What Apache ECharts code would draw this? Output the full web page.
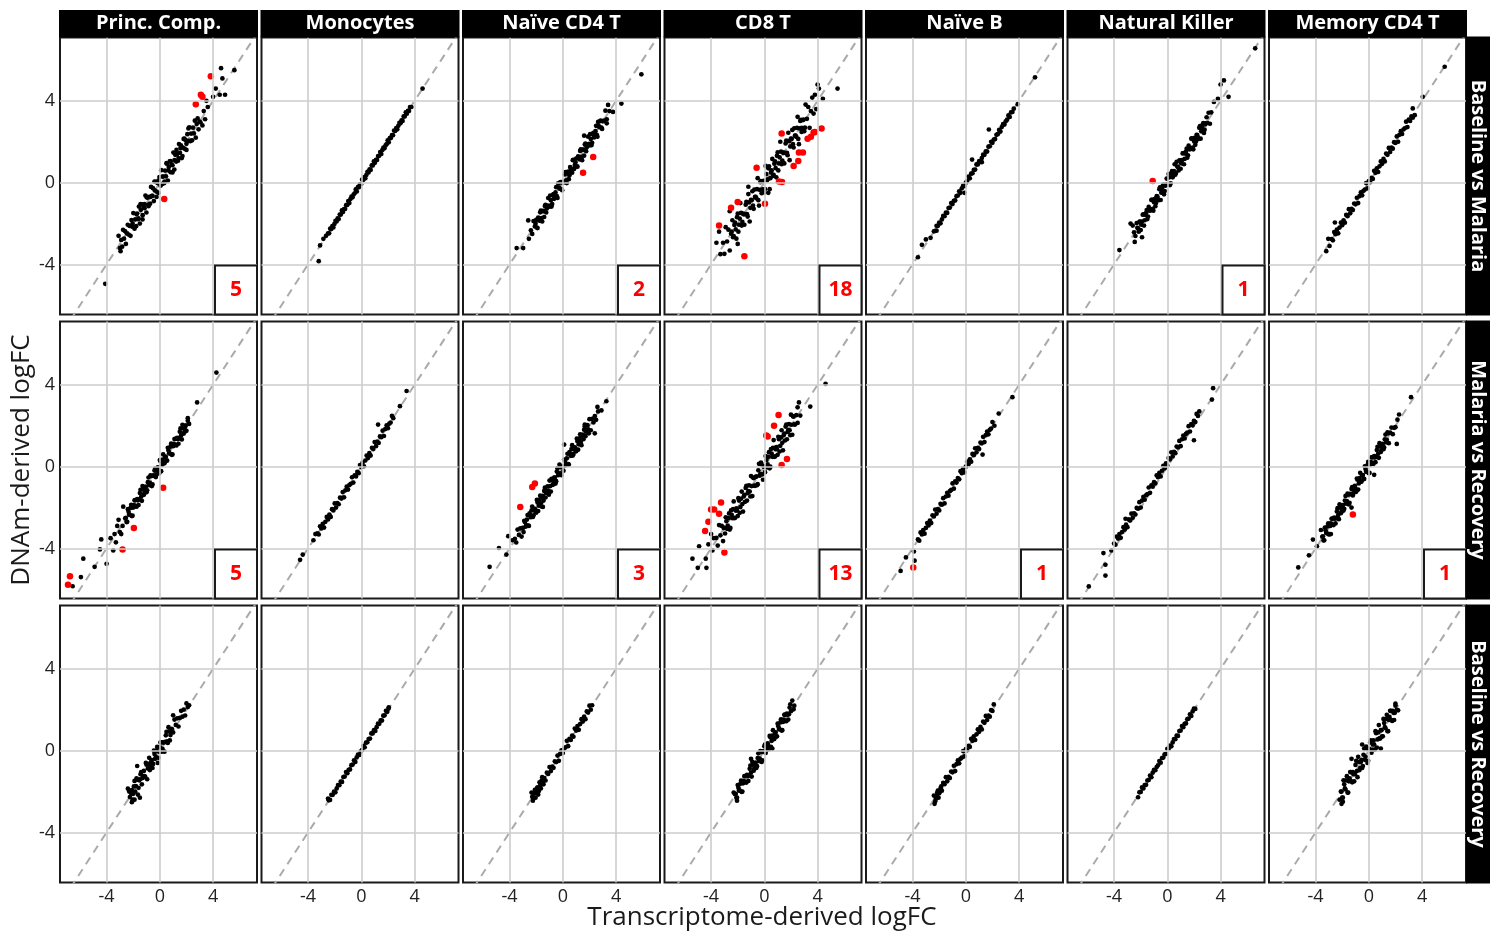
<!DOCTYPE html>
<html>
<head>
<meta charset="utf-8">
<title>DNAm vs transcriptome logFC</title>
<script src="https://cdn.jsdelivr.net/npm/echarts@6/dist/echarts.min.js"></script>
<style>
  html, body { margin: 0; padding: 0; background: #ffffff; }
  #chart { width: 1499px; height: 934px; }
</style>
</head>
<body>
<div id="chart"></div>
<script>
// Facet labels
const CELL_TYPES = ['Princ. Comp.', 'Monocytes', 'Naïve CD4 T', 'CD8 T', 'Naïve B', 'Natural Killer', 'Memory CD4 T'];
const CONTRASTS = ['Baseline vs Malaria', 'Malaria vs Recovery', 'Baseline vs Recovery'];
const TICKS = [-4, 0, 4];
const X_LIMITS = [-7.5, 7.3];
const Y_LIMITS = [-6.45, 7.1];
const IDENTITY = [-9, 9];

// ---- Baseline vs Malaria: [transcriptome logFC, DNAm logFC] ----
const bm_pc = [[-2.9,-2.8],[-2.83,-3.13],[-2.76,-2.31],[-2.69,-2.74],[-2.62,-2.37],[-2.55,-3.0],[-2.48,-2.48],[-2.41,-2.06],[-2.34,-2.54],[-2.27,-2.12],[-2.2,-2.6],[-2.13,-1.83],[-2.06,-2.16],[-1.99,-1.49],[-1.92,-2.17],[-1.85,-1.8],[-1.78,-2.13],[-1.71,-1.51],[-1.64,-1.79],[-1.57,-1.17],[-1.5,-2.0],[-1.43,-1.33],[-1.36,-1.06],[-1.29,-1.59],[-1.22,-1.22],[-1.15,-1.25],[-1.08,-0.63],[-1.01,-1.46],[-0.94,-0.74],[-0.87,-1.07],[-0.8,-0.7],[-0.73,-1.03],[-0.66,-0.21],[-0.59,-0.64],[-0.52,-0.27],[-0.45,-0.9],[-0.38,-0.38],[-0.31,0.04],[-0.24,-0.44],[-0.17,-0.02],[-0.1,-0.5],[-0.03,0.27],[0.04,-0.06],[0.11,0.61],[0.18,-0.07],[0.25,0.3],[0.32,-0.03],[0.39,0.59],[0.46,0.31],[0.53,0.93],[0.6,0.1],[0.67,0.77],[0.74,1.04],[0.81,0.51],[0.88,0.88],[0.95,0.85],[1.02,1.47],[1.09,0.64],[1.16,1.36],[1.23,1.03],[1.3,1.4],[1.37,1.07],[1.44,1.89],[1.51,1.46],[1.58,1.83],[1.65,1.2],[1.72,1.72],[1.79,2.14],[1.86,1.66],[1.93,2.08],[2.0,1.6],[2.07,2.37],[2.14,2.04],[2.21,2.71],[2.28,2.03],[2.35,2.4],[2.42,2.07],[2.49,2.69],[2.56,2.41],[2.63,3.03],[2.7,2.2],[2.77,2.87],[2.84,3.14],[2.91,2.61],[2.98,2.98],[3.05,2.95],[-2.05,-2.0],[-1.9,-2.25],[-1.75,-1.55],[-1.6,-1.75],[-1.45,-1.05],[-1.3,-1.8],[-1.15,-1.05],[-1.0,-0.7],[-0.85,-1.15],[-0.7,-0.7],[-0.55,-0.65],[-0.4,0.05],[-0.25,-0.7],[-0.1,0.1],[0.05,-0.15],[0.2,0.3],[0.35,0.05],[0.5,0.95],[0.65,0.6],[0.8,1.05],[0.95,0.5],[1.1,1.1],[1.25,1.6],[1.4,1.2],[1.55,1.7],[1.7,1.3],[1.85,2.15],[2.0,1.9],[2.15,2.65],[2.3,2.05],[-4.1,-4.95],[-3.1,-2.6],[-3.0,-3.2],[-2.95,-3.35],[3.3,3.5],[3.5,4.0],[3.6,3.7],[4.0,4.2],[4.5,4.3],[4.9,4.3],[4.7,5.1],[4.6,5.6],[5.6,5.5],[4.2,4.6],[3.2,2.8],[3.4,3.1]];
const bm_pc_sig = [[3.83,5.2],[3.08,4.3],[3.2,4.2],[2.7,3.84],[0.33,-0.8]];

const bm_mono = [[-2.5,-2.48],[-2.42,-2.48],[-2.34,-2.25],[-2.26,-2.27],[-2.18,-2.13],[-2.1,-2.19],[-2.02,-2.02],[-1.94,-1.87],[-1.86,-1.9],[-1.78,-1.75],[-1.7,-1.78],[-1.62,-1.56],[-1.54,-1.56],[-1.46,-1.36],[-1.38,-1.43],[-1.3,-1.29],[-1.22,-1.29],[-1.14,-1.1],[-1.06,-1.09],[-0.98,-0.9],[-0.9,-1.0],[-0.82,-0.8],[-0.74,-0.68],[-0.66,-0.72],[-0.58,-0.58],[-0.5,-0.52],[-0.42,-0.33],[-0.34,-0.43],[-0.26,-0.22],[-0.18,-0.22],[-0.1,-0.08],[-0.02,-0.08],[0.06,0.15],[0.14,0.13],[0.22,0.27],[0.3,0.21],[0.38,0.38],[0.46,0.53],[0.54,0.5],[0.62,0.65],[0.7,0.62],[0.78,0.84],[0.86,0.84],[0.94,1.04],[1.02,0.97],[1.1,1.11],[1.18,1.11],[1.26,1.3],[1.34,1.31],[1.42,1.5],[1.5,1.4],[1.58,1.6],[1.66,1.72],[1.74,1.68],[1.82,1.82],[1.9,1.88],[1.98,2.07],[2.06,1.97],[2.14,2.18],[2.22,2.18],[2.3,2.32],[2.38,2.32],[2.46,2.55],[2.54,2.53],[2.62,2.67],[2.7,2.61],[2.78,2.78],[2.86,2.93],[2.94,2.9],[3.02,3.05],[3.1,3.02],[3.18,3.24],[3.26,3.24],[3.34,3.44],[3.42,3.37],[3.5,3.51],[3.58,3.51],[3.66,3.7],[-3.2,-3.84],[-3.1,-3.07],[-2.85,-2.75],[-2.65,-2.6],[3.76,3.7],[4.6,4.6]];
const bm_mono_sig = [];

const bm_cd4n = [[-2.4,-2.33],[-2.3,-2.51],[-2.2,-1.88],[-2.1,-2.14],[-2.0,-1.82],[-1.9,-2.22],[-1.8,-1.8],[-1.7,-1.45],[-1.6,-1.74],[-1.5,-1.39],[-1.4,-1.68],[-1.3,-1.09],[-1.2,-1.27],[-1.1,-0.75],[-1.0,-1.18],[-0.9,-0.86],[-0.8,-1.05],[-0.7,-0.56],[-0.6,-0.71],[-0.5,-0.22],[-0.4,-0.75],[-0.3,-0.23],[-0.2,0.01],[-0.1,-0.31],[0.0,0.0],[0.1,0.03],[0.2,0.52],[0.3,-0.02],[0.4,0.54],[0.5,0.36],[0.6,0.67],[0.7,0.49],[0.8,1.12],[0.9,0.86],[1.0,1.18],[1.1,0.78],[1.2,1.2],[1.3,1.55],[1.4,1.26],[1.5,1.61],[1.6,1.32],[1.7,1.91],[1.8,1.73],[1.9,2.25],[2.0,1.82],[2.1,2.14],[2.2,1.95],[2.3,2.44],[2.4,2.29],[2.5,2.78],[2.6,2.25],[2.7,2.77],[2.8,3.01],[2.9,2.69],[3.0,3.0],[3.1,3.03],[3.2,3.52],[-2.05,-2.01],[-1.95,-2.2],[-1.85,-1.71],[-1.75,-1.86],[-1.65,-1.37],[-1.55,-1.9],[-1.45,-1.38],[-1.35,-1.14],[-1.25,-1.46],[-1.15,-1.15],[-1.05,-1.12],[-0.95,-0.63],[-0.85,-1.17],[-0.75,-0.61],[-0.65,-0.79],[-0.55,-0.48],[-0.45,-0.66],[-0.35,-0.03],[-0.25,-0.29],[-0.15,0.03],[-0.05,-0.37],[0.05,0.05],[0.15,0.4],[0.25,0.11],[0.35,0.46],[0.45,0.17],[0.55,0.76],[0.65,0.58],[0.75,1.1],[0.85,0.67],[0.95,0.99],[1.05,0.8],[1.15,1.29],[1.25,1.14],[1.35,1.63],[1.45,1.1],[1.55,1.62],[1.65,1.86],[1.75,1.54],[1.85,1.85],[1.95,1.88],[2.05,2.37],[2.15,1.83],[2.25,2.39],[2.35,2.21],[2.45,2.52],[2.55,2.34],[2.65,2.97],[2.75,2.71],[2.85,3.03],[2.95,2.63],[-3.47,-3.2],[-2.98,-3.2],[-2.6,-1.85],[-2.55,-2.75],[3.3,3.1],[3.5,3.5],[3.77,3.46],[4.4,3.87],[5.9,5.3],[1.6,2.3],[3.4,3.8],[3.3,2.9]];
const bm_cd4n_sig = [[2.28,1.26],[1.52,0.49]];

const bm_cd8 = [[-3.1,-2.94],[-3.0,-3.48],[-2.9,-2.18],[-2.8,-2.88],[-2.7,-2.3],[-2.6,-3.32],[-2.5,-2.5],[-2.4,-1.84],[-2.3,-2.62],[-2.2,-1.96],[-2.1,-2.74],[-2.0,-1.52],[-1.9,-2.06],[-1.8,-1.0],[-1.7,-2.1],[-1.6,-1.52],[-1.5,-2.06],[-1.4,-1.08],[-1.3,-1.54],[-1.2,-0.56],[-1.1,-1.9],[-1.0,-0.84],[-0.9,-0.42],[-0.8,-1.28],[-0.7,-0.7],[-0.6,-0.76],[-0.5,0.22],[-0.4,-1.12],[-0.3,0.02],[-0.2,-0.52],[-0.1,0.06],[0.0,-0.48],[0.1,0.82],[0.2,0.12],[0.3,0.7],[0.4,-0.32],[0.5,0.5],[0.6,1.16],[0.7,0.38],[0.8,1.04],[0.9,0.26],[1.0,1.48],[1.1,0.94],[1.2,2.0],[1.3,0.9],[1.4,1.48],[1.5,0.94],[1.6,1.92],[1.7,1.46],[1.8,2.44],[1.9,1.1],[2.0,2.16],[2.1,2.58],[2.2,1.72],[2.3,2.3],[2.4,2.24],[2.5,3.22],[2.6,1.88],[2.7,3.02],[2.8,2.48],[2.9,3.06],[3.0,2.52],[3.1,3.82],[3.2,3.12],[3.3,3.7],[3.4,2.68],[3.5,3.5],[3.6,4.16],[3.7,3.38],[-2.45,-2.4],[-2.35,-2.67],[-2.25,-2.07],[-2.15,-2.29],[-2.05,-1.69],[-1.95,-2.4],[-1.85,-1.76],[-1.75,-1.48],[-1.65,-1.92],[-1.55,-1.55],[-1.45,-1.54],[-1.35,-0.94],[-1.25,-1.66],[-1.15,-0.97],[-1.05,-1.23],[-0.95,-0.86],[-0.85,-1.12],[-0.75,-0.34],[-0.65,-0.7],[-0.55,-0.32],[-0.45,-0.86],[-0.35,-0.35],[-0.25,0.07],[-0.15,-0.33],[-0.05,0.09],[0.05,-0.31],[0.15,0.42],[0.25,0.16],[0.35,0.8],[0.45,0.22],[0.55,0.6],[0.65,0.33],[0.75,0.93],[0.85,0.71],[0.95,1.31],[1.05,0.6],[1.15,1.24],[1.25,1.52],[1.35,1.08],[1.45,1.45],[1.55,1.46],[1.65,2.06],[1.75,1.34],[1.85,2.03],[1.95,1.77],[2.05,2.14],[2.15,1.88],[2.25,2.66],[2.35,2.3],[2.45,2.68],[2.55,2.14],[2.65,2.65],[2.75,3.07],[2.85,2.67],[2.95,3.09],[3.05,2.69],[-3.6,-2.94],[-3.4,-2.4],[-2.0,-3.0],[-3.3,-3.5],[4.0,4.8],[4.4,4.1],[5.5,4.6],[3.8,4.3],[4.1,4.6],[3.9,3.6],[-1.2,-0.2],[0.3,-0.5],[-2.6,-1.4]];
const bm_cd8_sig = [[4.3,2.65],[3.8,2.48],[3.7,2.45],[3.5,2.24],[3.25,2.15],[2.9,1.47],[2.6,1.47],[2.55,1.06],[2.2,0.81],[1.3,2.4],[1.1,0.06],[1.33,0.03],[-0.58,0.73],[0.05,-1.03],[-2.0,-0.95],[-2.5,-1.23],[-3.4,-2.1],[-1.5,-3.6]];

const bm_bn = [[-2.4,-2.38],[-2.3,-2.36],[-2.2,-2.11],[-2.1,-2.11],[-2.0,-1.95],[-1.9,-1.99],[-1.8,-1.8],[-1.7,-1.63],[-1.6,-1.64],[-1.5,-1.47],[-1.4,-1.48],[-1.3,-1.24],[-1.2,-1.22],[-1.1,-1.0],[-1.0,-1.05],[-0.9,-0.89],[-0.8,-0.87],[-0.7,-0.66],[-0.6,-0.63],[-0.5,-0.42],[-0.4,-0.5],[-0.3,-0.28],[-0.2,-0.14],[-0.1,-0.16],[0.0,0.0],[0.1,0.08],[0.2,0.29],[0.3,0.21],[0.4,0.44],[0.5,0.46],[0.6,0.62],[0.7,0.64],[0.8,0.89],[0.9,0.89],[1.0,1.05],[1.1,1.01],[1.2,1.2],[1.3,1.37],[1.4,1.36],[1.5,1.53],[1.6,1.52],[1.7,1.76],[1.8,1.78],[1.9,2.0],[2.0,1.95],[2.1,2.11],[2.2,2.13],[2.3,2.34],[2.4,2.37],[2.5,2.58],[2.6,2.5],[2.7,2.72],[2.8,2.86],[2.9,2.84],[3.0,3.0],[3.1,3.08],[3.2,3.29],[3.3,3.21],[3.4,3.44],[3.5,3.46],[3.6,3.62],[-3.6,-3.65],[-3.3,-3.04],[-3.0,-2.78],[-2.65,-2.7],[3.9,3.84],[5.2,5.15],[1.73,2.6],[-0.1,-0.5],[0.47,1.13],[-2.2,-2.35],[1.2,1.0]];
const bm_bn_sig = [];

const bm_nk = [[-2.5,-2.43],[-2.4,-2.61],[-2.3,-1.98],[-2.2,-2.24],[-2.1,-1.92],[-2.0,-2.32],[-1.9,-1.9],[-1.8,-1.55],[-1.7,-1.84],[-1.6,-1.49],[-1.5,-1.78],[-1.4,-1.19],[-1.3,-1.37],[-1.2,-0.85],[-1.1,-1.28],[-1.0,-0.96],[-0.9,-1.15],[-0.8,-0.66],[-0.7,-0.81],[-0.6,-0.32],[-0.5,-0.85],[-0.4,-0.33],[-0.3,-0.09],[-0.2,-0.41],[-0.1,-0.1],[0.0,-0.07],[0.1,0.42],[0.2,-0.12],[0.3,0.44],[0.4,0.26],[0.5,0.57],[0.6,0.39],[0.7,1.02],[0.8,0.76],[0.9,1.08],[1.0,0.68],[1.1,1.1],[1.2,1.45],[1.3,1.16],[1.4,1.51],[1.5,1.22],[1.6,1.81],[1.7,1.63],[1.8,2.15],[1.9,1.72],[2.0,2.04],[2.1,1.85],[2.2,2.34],[2.3,2.19],[2.4,2.68],[2.5,2.15],[2.6,2.67],[2.7,2.91],[2.8,2.59],[2.9,2.9],[3.0,2.93],[3.1,3.42],[3.2,2.88],[3.3,3.44],[-2.25,-2.21],[-2.15,-2.4],[-2.05,-1.91],[-1.95,-2.06],[-1.85,-1.57],[-1.75,-2.1],[-1.65,-1.58],[-1.55,-1.34],[-1.45,-1.66],[-1.35,-1.35],[-1.25,-1.32],[-1.15,-0.83],[-1.05,-1.37],[-0.95,-0.81],[-0.85,-0.99],[-0.75,-0.68],[-0.65,-0.86],[-0.55,-0.23],[-0.45,-0.49],[-0.35,-0.17],[-0.25,-0.57],[-0.15,-0.15],[-0.05,0.2],[0.05,-0.09],[0.15,0.26],[0.25,-0.03],[0.35,0.56],[0.45,0.38],[0.55,0.9],[0.65,0.47],[0.75,0.79],[0.85,0.6],[0.95,1.09],[1.05,0.94],[1.15,1.43],[1.25,0.9],[1.35,1.42],[1.45,1.66],[1.55,1.34],[1.65,1.65],[1.75,1.68],[1.85,2.17],[1.95,1.63],[2.05,2.19],[2.15,2.01],[2.25,2.32],[2.35,2.14],[2.45,2.77],[2.55,2.51],[2.65,2.83],[2.75,2.43],[2.85,2.85],[2.95,3.2],[-3.6,-3.3],[-2.76,-2.0],[-1.9,-2.67],[-2.6,-2.1],[-2.45,-2.9],[3.5,3.95],[4.25,5.0],[4.6,4.2],[4.0,4.8],[3.8,4.1],[6.6,6.57]];
const bm_nk_sig = [[-1.1,0.08]];

const bm_cd4m = [[-2.8,-2.76],[-2.7,-2.82],[-2.6,-2.42],[-2.5,-2.52],[-2.4,-2.3],[-2.3,-2.48],[-2.2,-2.2],[-2.1,-1.96],[-2.0,-2.08],[-1.9,-1.84],[-1.8,-1.96],[-1.7,-1.58],[-1.6,-1.64],[-1.5,-1.3],[-1.4,-1.5],[-1.3,-1.28],[-1.2,-1.34],[-1.1,-1.02],[-1.0,-1.06],[-0.9,-0.74],[-0.8,-1.0],[-0.7,-0.66],[-0.6,-0.48],[-0.5,-0.62],[-0.4,-0.4],[-0.3,-0.34],[-0.2,-0.02],[-0.1,-0.28],[0.0,0.08],[0.1,0.02],[0.2,0.24],[0.3,0.18],[0.4,0.58],[0.5,0.48],[0.6,0.7],[0.7,0.52],[0.8,0.8],[0.9,1.04],[1.0,0.92],[1.1,1.16],[1.2,1.04],[1.3,1.42],[1.4,1.36],[1.5,1.7],[1.6,1.5],[1.7,1.72],[1.8,1.66],[1.9,1.98],[2.0,1.94],[2.1,2.26],[2.2,2.0],[2.3,2.34],[2.4,2.52],[2.5,2.38],[2.6,2.6],[2.7,2.66],[2.8,2.98],[2.9,2.72],[3.0,3.08],[3.1,3.02],[3.2,3.24],[3.3,3.18],[-3.2,-3.35],[-3.05,-2.75],[-2.95,-3.1],[3.3,3.63],[3.45,3.3],[4.05,4.2],[5.7,5.67],[-2.55,-1.95]];
const bm_cd4m_sig = [];

// ---- Malaria vs Recovery ----
const mr_pc = [[-2.6,-2.53],[-2.5,-2.71],[-2.4,-2.08],[-2.3,-2.34],[-2.2,-2.02],[-2.1,-2.42],[-2.0,-2.0],[-1.9,-1.65],[-1.8,-1.94],[-1.7,-1.59],[-1.6,-1.88],[-1.5,-1.29],[-1.4,-1.47],[-1.3,-0.95],[-1.2,-1.38],[-1.1,-1.06],[-1.0,-1.25],[-0.9,-0.76],[-0.8,-0.91],[-0.7,-0.42],[-0.6,-0.95],[-0.5,-0.43],[-0.4,-0.19],[-0.3,-0.51],[-0.2,-0.2],[-0.1,-0.17],[0.0,0.32],[0.1,-0.22],[0.2,0.34],[0.3,0.16],[0.4,0.47],[0.5,0.29],[0.6,0.92],[0.7,0.66],[0.8,0.98],[0.9,0.58],[1.0,1.0],[1.1,1.35],[1.2,1.06],[1.3,1.41],[1.4,1.12],[1.5,1.71],[1.6,1.53],[1.7,2.05],[1.8,1.62],[1.9,1.94],[2.0,1.75],[2.1,2.24],[2.2,2.09],[-2.55,-2.51],[-2.45,-2.7],[-2.35,-2.21],[-2.25,-2.36],[-2.15,-1.87],[-2.05,-2.4],[-1.95,-1.88],[-1.85,-1.64],[-1.75,-1.96],[-1.65,-1.65],[-1.55,-1.62],[-1.45,-1.13],[-1.35,-1.67],[-1.25,-1.11],[-1.15,-1.29],[-1.05,-0.98],[-0.95,-1.16],[-0.85,-0.53],[-0.75,-0.79],[-0.65,-0.47],[-0.55,-0.87],[-0.45,-0.45],[-0.35,-0.1],[-0.25,-0.39],[-0.15,-0.04],[-0.05,-0.33],[0.05,0.26],[0.15,0.08],[0.25,0.6],[0.35,0.17],[0.45,0.49],[0.55,0.3],[0.65,0.79],[0.75,0.64],[0.85,1.13],[0.95,0.6],[1.05,1.12],[1.15,1.36],[1.25,1.04],[1.35,1.35],[1.45,1.38],[1.55,1.87],[1.65,1.33],[1.75,1.89],[1.85,1.71],[1.95,2.02],[4.25,4.6],[2.8,3.14],[2.1,2.37],[-2.75,-1.96],[-2.8,-2.9],[-3.0,-3.2],[-3.2,-2.9],[-3.4,-3.3],[-3.5,-4.1],[-3.7,-3.5],[-4.0,-4.75],[-4.4,-3.56],[-4.5,-4.05],[-4.9,-4.9],[-5.75,-4.5],[-5.93,-5.4],[-6.55,-5.85],[-3.3,-3.7],[-3.1,-2.6],[-2.9,-3.3]];
const mr_pc_sig = [[0.25,-1.03],[-1.95,-3.0],[-2.8,-4.05],[-6.75,-5.36],[-6.9,-5.78]];

const mr_mono = [[-3.3,-3.26],[-3.2,-3.32],[-3.1,-2.92],[-3.0,-3.02],[-2.9,-2.8],[-2.8,-2.98],[-2.7,-2.7],[-2.6,-2.46],[-2.5,-2.58],[-2.4,-2.34],[-2.3,-2.46],[-2.2,-2.08],[-2.1,-2.14],[-2.0,-1.8],[-1.9,-2.0],[-1.8,-1.78],[-1.7,-1.84],[-1.6,-1.52],[-1.5,-1.56],[-1.4,-1.24],[-1.3,-1.5],[-1.2,-1.16],[-1.1,-0.98],[-1.0,-1.12],[-0.9,-0.9],[-0.8,-0.84],[-0.7,-0.52],[-0.6,-0.78],[-0.5,-0.42],[-0.4,-0.48],[-0.3,-0.26],[-0.2,-0.32],[-0.1,0.08],[0.0,-0.02],[0.1,0.2],[0.2,0.02],[0.3,0.3],[0.4,0.54],[0.5,0.42],[0.6,0.66],[0.7,0.54],[0.8,0.92],[0.9,0.86],[1.0,1.2],[1.1,1.0],[1.2,1.22],[1.3,1.16],[1.4,1.48],[1.5,1.44],[1.6,1.76],[1.7,1.5],[1.8,1.84],[1.9,2.02],[2.0,1.88],[2.1,2.1],[2.2,2.16],[2.3,2.48],[-4.6,-4.56],[-4.4,-4.3],[-3.6,-3.6],[-3.45,-3.3],[1.26,2.06],[2.4,2.37],[2.9,2.96],[3.4,3.7]];
const mr_mono_sig = [];

const mr_cd4n = [[-3.6,-3.53],[-3.5,-3.71],[-3.4,-3.08],[-3.3,-3.34],[-3.2,-3.02],[-3.1,-3.42],[-3.0,-3.0],[-2.9,-2.65],[-2.8,-2.94],[-2.7,-2.59],[-2.6,-2.88],[-2.5,-2.29],[-2.4,-2.47],[-2.3,-1.95],[-2.2,-2.38],[-2.1,-2.06],[-2.0,-2.25],[-1.9,-1.76],[-1.8,-1.91],[-1.7,-1.42],[-1.6,-1.95],[-1.5,-1.43],[-1.4,-1.19],[-1.3,-1.51],[-1.2,-1.2],[-1.1,-1.17],[-1.0,-0.68],[-0.9,-1.22],[-0.8,-0.66],[-0.7,-0.84],[-0.6,-0.53],[-0.5,-0.71],[-0.4,-0.08],[-0.3,-0.34],[-0.2,-0.02],[-0.1,-0.42],[0.0,0.0],[0.1,0.35],[0.2,0.06],[0.3,0.41],[0.4,0.12],[0.5,0.71],[0.6,0.53],[0.7,1.05],[0.8,0.62],[0.9,0.94],[1.0,0.75],[1.1,1.24],[1.2,1.09],[1.3,1.58],[1.4,1.05],[1.5,1.57],[1.6,1.81],[1.7,1.49],[1.8,1.8],[1.9,1.83],[2.0,2.32],[2.1,1.78],[2.2,2.34],[2.3,2.16],[2.4,2.47],[2.5,2.29],[2.6,2.92],[-3.05,-3.01],[-2.95,-3.2],[-2.85,-2.71],[-2.75,-2.86],[-2.65,-2.37],[-2.55,-2.9],[-2.45,-2.38],[-2.35,-2.14],[-2.25,-2.46],[-2.15,-2.15],[-2.05,-2.12],[-1.95,-1.63],[-1.85,-2.17],[-1.75,-1.61],[-1.65,-1.79],[-1.55,-1.48],[-1.45,-1.66],[-1.35,-1.03],[-1.25,-1.29],[-1.15,-0.97],[-1.05,-1.37],[-0.95,-0.95],[-0.85,-0.6],[-0.75,-0.89],[-0.65,-0.54],[-0.55,-0.83],[-0.45,-0.24],[-0.35,-0.42],[-0.25,0.1],[-0.15,-0.33],[-0.05,-0.01],[0.05,-0.2],[0.15,0.29],[0.25,0.14],[0.35,0.63],[0.45,0.1],[0.55,0.62],[0.65,0.86],[0.75,0.54],[0.85,0.85],[0.95,0.88],[1.05,1.37],[1.15,0.83],[1.25,1.39],[1.35,1.21],[1.45,1.52],[1.55,1.34],[1.65,1.97],[1.75,1.71],[1.85,2.03],[1.95,1.63],[-5.5,-4.9],[-4.8,-3.98],[-4.24,-4.3],[-4.1,-3.4],[-3.8,-3.6],[-1.5,-1.97],[0.1,1.08],[1.65,2.06],[2.4,1.63],[2.65,2.7],[3.27,3.2],[2.9,2.75]];
const mr_cd4n_sig = [[-2.1,-0.83],[-2.3,-1.0],[-3.2,-1.97]];

const mr_cd8 = [[-3.6,-3.48],[-3.5,-3.86],[-3.4,-2.86],[-3.3,-3.36],[-3.2,-2.9],[-3.1,-3.64],[-3.0,-3.0],[-2.9,-2.48],[-2.8,-3.04],[-2.7,-2.52],[-2.6,-3.08],[-2.5,-2.14],[-2.4,-2.52],[-2.3,-1.7],[-2.2,-2.5],[-2.1,-2.04],[-2.0,-2.42],[-1.9,-1.66],[-1.8,-1.98],[-1.7,-1.22],[-1.6,-2.2],[-1.5,-1.38],[-1.4,-1.04],[-1.3,-1.66],[-1.2,-1.2],[-1.1,-1.22],[-1.0,-0.46],[-0.9,-1.44],[-0.8,-0.56],[-0.7,-0.94],[-0.6,-0.48],[-0.5,-0.86],[-0.4,0.14],[-0.3,-0.36],[-0.2,0.1],[-0.1,-0.64],[0.0,0.0],[0.1,0.52],[0.2,-0.04],[0.3,0.48],[0.4,-0.08],[0.5,0.86],[0.6,0.48],[0.7,1.3],[0.8,0.5],[0.9,0.96],[1.0,0.58],[1.1,1.34],[1.2,1.02],[1.3,1.78],[1.4,0.8],[1.5,1.62],[1.6,1.96],[1.7,1.34],[1.8,1.8],[1.9,1.78],[2.0,2.54],[2.1,1.56],[2.2,2.44],[2.3,2.06],[2.4,2.52],[2.5,2.14],[2.6,3.14],[-3.05,-3.0],[-2.95,-3.27],[-2.85,-2.67],[-2.75,-2.89],[-2.65,-2.29],[-2.55,-3.0],[-2.45,-2.36],[-2.35,-2.08],[-2.25,-2.52],[-2.15,-2.15],[-2.05,-2.14],[-1.95,-1.54],[-1.85,-2.26],[-1.75,-1.57],[-1.65,-1.83],[-1.55,-1.46],[-1.45,-1.72],[-1.35,-0.94],[-1.25,-1.3],[-1.15,-0.92],[-1.05,-1.46],[-0.95,-0.95],[-0.85,-0.53],[-0.75,-0.93],[-0.65,-0.51],[-0.55,-0.91],[-0.45,-0.18],[-0.35,-0.44],[-0.25,0.2],[-0.15,-0.38],[-0.05,0.0],[0.05,-0.27],[0.15,0.33],[0.25,0.11],[0.35,0.71],[0.45,0.0],[0.55,0.64],[0.65,0.92],[0.75,0.48],[0.85,0.85],[0.95,0.86],[1.05,1.46],[1.15,0.74],[1.25,1.43],[1.35,1.17],[1.45,1.54],[1.55,1.28],[1.65,2.06],[1.75,1.7],[1.85,2.08],[1.95,1.54],[2.05,2.05],[2.15,2.47],[2.25,2.07],[4.6,4.05],[3.45,2.94],[-3.8,-3.5],[-4.0,-3.3],[-4.2,-3.8],[-4.9,-3.9],[-5.4,-4.5],[-5.0,-4.95],[-4.35,-4.95],[-4.4,-4.5],[-3.9,-4.1],[2.7,2.5],[2.5,2.9]];
const mr_cd8_sig = [[1.07,2.53],[0.73,2.0],[0.25,1.47],[0.15,1.52],[1.7,0.38],[1.3,0.08],[-3.25,-1.75],[-4.0,-2.1],[-3.77,-2.1],[-3.4,-2.3],[-4.2,-2.7],[-4.45,-3.15],[-3.0,-4.2]];

const mr_bn = [[-3.6,-3.56],[-3.5,-3.62],[-3.4,-3.22],[-3.3,-3.32],[-3.2,-3.1],[-3.1,-3.28],[-3.0,-3.0],[-2.9,-2.76],[-2.8,-2.88],[-2.7,-2.64],[-2.6,-2.76],[-2.5,-2.38],[-2.4,-2.44],[-2.3,-2.1],[-2.2,-2.3],[-2.1,-2.08],[-2.0,-2.14],[-1.9,-1.82],[-1.8,-1.86],[-1.7,-1.54],[-1.6,-1.8],[-1.5,-1.46],[-1.4,-1.28],[-1.3,-1.42],[-1.2,-1.2],[-1.1,-1.14],[-1.0,-0.82],[-0.9,-1.08],[-0.8,-0.72],[-0.7,-0.78],[-0.6,-0.56],[-0.5,-0.62],[-0.4,-0.22],[-0.3,-0.32],[-0.2,-0.1],[-0.1,-0.28],[0.0,0.0],[0.1,0.24],[0.2,0.12],[0.3,0.36],[0.4,0.24],[0.5,0.62],[0.6,0.56],[0.7,0.9],[0.8,0.7],[0.9,0.92],[1.0,0.86],[1.1,1.18],[1.2,1.14],[1.3,1.46],[1.4,1.2],[1.5,1.54],[1.6,1.72],[1.7,1.58],[1.8,1.8],[1.9,1.86],[2.0,2.18],[-4.9,-5.1],[-4.5,-4.44],[-3.9,-4.15],[-3.85,-4.6],[1.26,0.59],[2.47,2.6],[3.5,3.4],[2.15,2.0]];
const mr_bn_sig = [[-3.95,-4.93]];

const mr_nk = [[-4.0,-3.76],[-3.9,-3.82],[-3.8,-3.42],[-3.7,-3.52],[-3.6,-3.3],[-3.5,-3.48],[-3.4,-3.2],[-3.3,-2.96],[-3.2,-3.08],[-3.1,-2.84],[-3.0,-2.96],[-2.9,-2.58],[-2.8,-2.64],[-2.7,-2.3],[-2.6,-2.5],[-2.5,-2.28],[-2.4,-2.34],[-2.3,-2.02],[-2.2,-2.06],[-2.1,-1.74],[-2.0,-2.0],[-1.9,-1.66],[-1.8,-1.48],[-1.7,-1.62],[-1.6,-1.4],[-1.5,-1.34],[-1.4,-1.02],[-1.3,-1.28],[-1.2,-0.92],[-1.1,-0.98],[-1.0,-0.76],[-0.9,-0.82],[-0.8,-0.42],[-0.7,-0.52],[-0.6,-0.3],[-0.5,-0.48],[-0.4,-0.2],[-0.3,0.04],[-0.2,-0.08],[-0.1,0.16],[0.0,0.04],[0.1,0.42],[0.2,0.36],[0.3,0.7],[0.4,0.5],[0.5,0.72],[0.6,0.66],[0.7,0.98],[0.8,0.94],[0.9,1.26],[1.0,1.0],[1.1,1.34],[1.2,1.52],[1.3,1.38],[1.4,1.6],[1.5,1.66],[1.6,1.98],[1.7,1.72],[1.8,2.08],[1.9,2.02],[2.0,2.24],[2.1,2.18],[2.2,2.58],[2.3,2.48],[2.4,2.7],[-5.9,-5.86],[-4.65,-5.33],[-4.65,-4.8],[-4.8,-4.23],[-4.2,-4.1],[-3.14,-2.55],[2.0,1.29],[3.35,3.28],[3.44,3.84]];
const mr_nk_sig = [];

const mr_cd4m = [[-3.5,-3.43],[-3.4,-3.61],[-3.3,-2.98],[-3.2,-3.24],[-3.1,-2.92],[-3.0,-3.32],[-2.9,-2.9],[-2.8,-2.55],[-2.7,-2.84],[-2.6,-2.49],[-2.5,-2.78],[-2.4,-2.19],[-2.3,-2.37],[-2.2,-1.85],[-2.1,-2.28],[-2.0,-1.96],[-1.9,-2.15],[-1.8,-1.66],[-1.7,-1.81],[-1.6,-1.32],[-1.5,-1.85],[-1.4,-1.33],[-1.3,-1.09],[-1.2,-1.41],[-1.1,-1.1],[-1.0,-1.07],[-0.9,-0.58],[-0.8,-1.12],[-0.7,-0.56],[-0.6,-0.74],[-0.5,-0.43],[-0.4,-0.61],[-0.3,0.02],[-0.2,-0.24],[-0.1,0.08],[0.0,-0.32],[0.1,0.1],[0.2,0.45],[0.3,0.16],[0.4,0.51],[0.5,0.22],[0.6,0.81],[0.7,0.63],[0.8,1.15],[0.9,0.72],[1.0,1.04],[1.1,0.85],[1.2,1.34],[1.3,1.19],[1.4,1.68],[1.5,1.15],[1.6,1.67],[1.7,1.91],[1.8,1.59],[1.9,1.9],[2.0,1.93],[-3.45,-3.41],[-3.35,-3.6],[-3.25,-3.11],[-3.15,-3.26],[-3.05,-2.77],[-2.95,-3.3],[-2.85,-2.78],[-2.75,-2.54],[-2.65,-2.86],[-2.55,-2.55],[-2.45,-2.52],[-2.35,-2.03],[-2.25,-2.57],[-2.15,-2.01],[-2.05,-2.19],[-1.95,-1.88],[-1.85,-2.06],[-1.75,-1.43],[-1.65,-1.69],[-1.55,-1.37],[-1.45,-1.77],[-1.35,-1.35],[-1.25,-1.0],[-1.15,-1.29],[-1.05,-0.94],[-0.95,-1.23],[-0.85,-0.64],[-0.75,-0.82],[-0.65,-0.3],[-0.55,-0.73],[-0.45,-0.41],[-0.35,-0.6],[-0.25,-0.11],[-0.15,-0.26],[-0.05,0.23],[0.05,-0.3],[0.15,0.22],[0.25,0.46],[0.35,0.14],[0.45,0.45],[0.55,0.48],[0.65,0.97],[0.75,0.43],[0.85,0.99],[0.95,0.81],[1.05,1.12],[1.15,0.94],[1.25,1.57],[1.35,1.31],[1.45,1.63],[3.17,3.4],[2.27,2.55],[2.1,1.11],[2.15,2.3],[-3.6,-3.1],[-4.2,-3.57],[-3.9,-3.9],[-4.5,-4.34],[-5.3,-4.93],[-2.85,-3.3],[-1.3,-2.0],[0.4,-0.4]];
const mr_cd4m_sig = [[-1.2,-2.34]];

// ---- Baseline vs Recovery ----
const br_pc = [[-2.1,-1.93],[-2.0,-2.11],[-1.9,-1.48],[-1.8,-1.74],[-1.7,-1.42],[-1.6,-1.82],[-1.5,-1.4],[-1.4,-1.05],[-1.3,-1.34],[-1.2,-0.99],[-1.1,-1.28],[-1.0,-0.69],[-0.9,-0.87],[-0.8,-0.35],[-0.7,-0.78],[-0.6,-0.46],[-0.5,-0.65],[-0.4,-0.16],[-0.3,-0.31],[-0.2,0.18],[-0.1,-0.35],[0.0,0.17],[0.1,0.41],[0.2,0.09],[0.3,0.4],[0.4,0.43],[0.5,0.92],[0.6,0.38],[0.7,0.94],[0.8,0.76],[0.9,1.07],[1.0,0.89],[1.1,1.52],[1.2,1.26],[1.3,1.58],[1.4,1.18],[1.5,1.6],[1.6,1.95],[1.7,1.66],[1.8,2.01],[1.9,1.72],[2.0,2.31],[2.1,2.13],[-2.15,-2.1],[-2.05,-2.4],[-1.95,-1.75],[-1.85,-2.0],[-1.75,-1.35],[-1.65,-2.15],[-1.55,-1.45],[-1.45,-1.15],[-1.35,-1.65],[-1.25,-1.25],[-1.15,-1.25],[-1.05,-0.6],[-0.95,-1.4],[-0.85,-0.65],[-0.75,-0.95],[-0.65,-0.55],[-0.55,-0.85],[-0.45,0.0],[-0.35,-0.4],[-0.25,0.0],[-0.15,-0.6],[-0.05,-0.05],[0.05,0.4],[0.15,-0.05],[0.25,0.4],[0.35,-0.05],[0.45,0.75],[0.55,0.45],[0.65,1.15],[0.75,0.5],[0.85,0.9],[2.2,2.22],[1.0,1.73],[-2.1,-2.52],[-2.25,-2.27],[-2.4,-1.86],[-1.7,-0.75],[-1.5,-2.3],[-1.9,-2.4],[-2.3,-2.0]];
const br_pc_sig = [];

const br_mono = [[-2.45,-2.43],[-2.35,-2.41],[-2.25,-2.16],[-2.15,-2.16],[-2.05,-2.0],[-1.95,-2.04],[-1.85,-1.85],[-1.75,-1.68],[-1.65,-1.69],[-1.55,-1.52],[-1.45,-1.53],[-1.35,-1.29],[-1.25,-1.27],[-1.15,-1.05],[-1.05,-1.1],[-0.95,-0.94],[-0.85,-0.92],[-0.75,-0.71],[-0.65,-0.68],[-0.55,-0.47],[-0.45,-0.55],[-0.35,-0.33],[-0.25,-0.19],[-0.15,-0.21],[-0.05,-0.05],[0.05,0.03],[0.15,0.24],[0.25,0.16],[0.35,0.39],[0.45,0.41],[0.55,0.57],[0.65,0.59],[0.75,0.84],[0.85,0.84],[0.95,1.0],[1.05,0.96],[1.15,1.15],[1.25,1.32],[1.35,1.31],[1.45,1.48],[1.55,1.47],[1.65,1.71],[1.75,1.73],[1.85,1.95],[1.95,1.9],[2.05,2.06],[-2.5,-2.34],[2.06,2.12]];
const br_mono_sig = [];

const br_cd4n = [[-2.3,-2.26],[-2.2,-2.32],[-2.1,-1.92],[-2.0,-2.02],[-1.9,-1.8],[-1.8,-1.98],[-1.7,-1.7],[-1.6,-1.46],[-1.5,-1.58],[-1.4,-1.34],[-1.3,-1.46],[-1.2,-1.08],[-1.1,-1.14],[-1.0,-0.8],[-0.9,-1.0],[-0.8,-0.78],[-0.7,-0.84],[-0.6,-0.52],[-0.5,-0.56],[-0.4,-0.24],[-0.3,-0.5],[-0.2,-0.16],[-0.1,0.02],[0.0,-0.12],[0.1,0.1],[0.2,0.16],[0.3,0.48],[0.4,0.22],[0.5,0.58],[0.6,0.52],[0.7,0.74],[0.8,0.68],[0.9,1.08],[1.0,0.98],[1.1,1.2],[1.2,1.02],[1.3,1.3],[1.4,1.54],[1.5,1.42],[1.6,1.66],[1.7,1.54],[1.8,1.92],[1.9,1.86],[2.0,2.2],[2.1,2.0],[2.2,2.22],[-2.25,-2.45],[-2.15,-2.1],[-2.05,-2.3],[-1.95,-1.85],[-1.85,-2.15],[-1.75,-1.55],[-1.65,-1.85],[-1.55,-1.3],[-1.45,-1.65],[-2.35,-2.05]];
const br_cd4n_sig = [];

const br_cd8 = [[-2.2,-2.13],[-2.1,-2.31],[-2.0,-1.68],[-1.9,-1.94],[-1.8,-1.62],[-1.7,-2.02],[-1.6,-1.6],[-1.5,-1.25],[-1.4,-1.54],[-1.3,-1.19],[-1.2,-1.48],[-1.1,-0.89],[-1.0,-1.07],[-0.9,-0.55],[-0.8,-0.98],[-0.7,-0.66],[-0.6,-0.85],[-0.5,-0.36],[-0.4,-0.51],[-0.3,-0.02],[-0.2,-0.55],[-0.1,-0.03],[0.0,0.21],[0.1,-0.11],[0.2,0.2],[0.3,0.23],[0.4,0.72],[0.5,0.18],[0.6,0.74],[0.7,0.56],[0.8,0.87],[0.9,0.69],[1.0,1.32],[1.1,1.06],[1.2,1.38],[1.3,0.98],[1.4,1.4],[1.5,1.75],[1.6,1.46],[1.7,1.81],[1.8,1.52],[1.9,2.11],[2.0,1.93],[2.1,2.45],[2.2,2.02],[-2.15,-2.11],[-2.05,-2.3],[-1.95,-1.81],[-1.85,-1.96],[-1.75,-1.47],[-1.65,-2.0],[-1.55,-1.48],[-1.45,-1.24],[-1.35,-1.56],[-1.25,-1.25],[-1.15,-1.22],[-1.05,-0.73],[-0.95,-1.27],[-0.85,-0.71],[-0.75,-0.89],[-0.65,-0.58],[-0.55,-0.76],[-0.45,-0.13],[-0.35,-0.39],[-0.25,-0.07],[-0.15,-0.47],[-0.05,-0.05],[0.05,0.3],[0.15,0.01],[0.25,0.36],[0.35,0.07],[0.45,0.66],[0.55,0.48],[0.65,1.0],[0.75,0.57],[0.85,0.89],[0.95,0.7],[1.05,1.19],[1.15,1.04],[1.25,1.53],[1.35,1.0],[1.45,1.52],[1.55,1.76],[1.65,1.44],[1.75,1.75],[1.85,1.78],[1.95,2.27],[-1.0,-0.4],[0.6,0.1],[2.25,2.2],[-2.3,-2.05],[-2.05,-2.45]];
const br_cd8_sig = [];

const br_bn = [[-2.3,-2.48],[-2.2,-2.2],[-2.1,-1.96],[-2.0,-2.08],[-1.9,-1.84],[-1.8,-1.96],[-1.7,-1.58],[-1.6,-1.64],[-1.5,-1.3],[-1.4,-1.5],[-1.3,-1.28],[-1.2,-1.34],[-1.1,-1.02],[-1.0,-1.06],[-0.9,-0.74],[-0.8,-1.0],[-0.7,-0.66],[-0.6,-0.48],[-0.5,-0.62],[-0.4,-0.4],[-0.3,-0.34],[-0.2,-0.02],[-0.1,-0.28],[0.0,0.08],[0.1,0.02],[0.2,0.24],[0.3,0.18],[0.4,0.58],[0.5,0.48],[0.6,0.7],[0.7,0.52],[0.8,0.8],[0.9,1.04],[1.0,0.92],[1.1,1.16],[1.2,1.04],[1.3,1.42],[1.4,1.36],[1.5,1.7],[1.6,1.5],[1.7,1.72],[1.8,1.66],[1.9,1.98],[2.0,1.94],[2.1,2.26],[-2.4,-2.2],[-2.35,-2.6],[-2.25,-2.35],[-2.15,-2.05],[-2.05,-2.3],[-1.95,-2.0],[-1.85,-1.75]];
const br_bn_sig = [];

const br_nk = [[-2.2,-2.28],[-2.1,-2.04],[-2.0,-2.02],[-1.9,-1.8],[-1.8,-1.85],[-1.7,-1.69],[-1.6,-1.67],[-1.5,-1.46],[-1.4,-1.43],[-1.3,-1.22],[-1.2,-1.3],[-1.1,-1.08],[-1.0,-0.94],[-0.9,-0.96],[-0.8,-0.8],[-0.7,-0.72],[-0.6,-0.51],[-0.5,-0.59],[-0.4,-0.36],[-0.3,-0.34],[-0.2,-0.18],[-0.1,-0.16],[0.0,0.09],[0.1,0.09],[0.2,0.25],[0.3,0.21],[0.4,0.4],[0.5,0.57],[0.6,0.56],[0.7,0.73],[0.8,0.72],[0.9,0.96],[1.0,0.98],[1.1,1.2],[1.2,1.15],[1.3,1.31],[1.4,1.33],[1.5,1.54],[1.6,1.57],[1.7,1.78],[1.8,1.7],[1.9,1.92],[2.0,2.06],[2.1,2.04]];
const br_nk_sig = [];

const br_cd4m = [[-2.1,-2.0],[-2.0,-2.3],[-1.9,-1.45],[-1.8,-1.85],[-1.7,-1.45],[-1.6,-2.05],[-1.5,-1.5],[-1.4,-1.05],[-1.3,-1.5],[-1.2,-1.05],[-1.1,-1.5],[-1.0,-0.7],[-0.9,-1.0],[-0.8,-0.3],[-0.7,-0.95],[-0.6,-0.55],[-0.5,-0.85],[-0.4,-0.2],[-0.3,-0.45],[-0.2,0.2],[-0.1,-0.6],[0.0,0.1],[0.1,0.4],[0.2,-0.1],[0.3,0.3],[0.4,0.3],[0.5,0.95],[0.6,0.15],[0.7,0.9],[0.8,0.6],[0.9,1.0],[1.0,0.7],[1.1,1.55],[1.2,1.15],[1.3,1.55],[1.4,0.95],[1.5,1.5],[1.6,1.95],[1.7,1.5],[1.8,1.95],[1.9,1.5],[2.0,2.3],[2.1,2.0],[-2.05,-2.0],[-1.95,-2.3],[-1.85,-1.65],[-1.75,-1.9],[-1.65,-1.25],[-1.55,-2.05],[-1.45,-1.35],[-1.35,-1.05],[-1.25,-1.55],[-1.15,-1.15],[-1.05,-1.15],[-0.95,-0.5],[-0.85,-1.3],[-0.75,-0.55],[-0.65,-0.85],[-0.55,-0.45],[-0.45,-0.75],[-0.35,0.1],[-0.25,-0.3],[-0.15,0.1],[-0.05,-0.5],[0.05,0.05],[0.15,0.5],[0.25,0.05],[0.35,0.5],[0.45,0.05],[0.55,0.85],[0.65,0.55],[0.75,1.25],[0.85,0.6],[0.95,1.0],[1.05,0.7],[1.15,1.35],[1.25,1.1],[1.35,1.75],[1.45,0.95],[1.55,1.65],[1.65,1.95],[1.75,1.45],[1.85,1.85],[1.95,1.85],[-2.2,-2.4],[-2.05,-2.6],[-1.95,-2.5],[2.2,1.97],[2.0,2.2],[-1.3,-0.4],[-0.5,0.3],[0.9,0.1]];
const br_cd4m_sig = [];

// Panel lookup, rows follow CONTRASTS, columns follow CELL_TYPES
const PANEL_POINTS = [
  [bm_pc, bm_mono, bm_cd4n, bm_cd8, bm_bn, bm_nk, bm_cd4m],
  [mr_pc, mr_mono, mr_cd4n, mr_cd8, mr_bn, mr_nk, mr_cd4m],
  [br_pc, br_mono, br_cd4n, br_cd8, br_bn, br_nk, br_cd4m]
];
const PANEL_SIG = [
  [bm_pc_sig, bm_mono_sig, bm_cd4n_sig, bm_cd8_sig, bm_bn_sig, bm_nk_sig, bm_cd4m_sig],
  [mr_pc_sig, mr_mono_sig, mr_cd4n_sig, mr_cd8_sig, mr_bn_sig, mr_nk_sig, mr_cd4m_sig],
  [br_pc_sig, br_mono_sig, br_cd4n_sig, br_cd8_sig, br_bn_sig, br_nk_sig, br_cd4m_sig]
];

// ---- layout ----
const PANEL_LEFT = 60, PANEL_STEP = 201.5, PANEL_W = 197, PANEL_H = 277;
const PANEL_TOPS = [37.5, 321.5, 605.5];
const STRIP_TOP = 10, STRIP_H = 27.5, ROW_STRIP_X = 1466, ROW_STRIP_W = 24;
const FONT = '"Open Sans", "Noto Sans", sans-serif';

const grids = [], xAxes = [], yAxes = [], series = [], elements = [];

CONTRASTS.forEach((contrast, r) => {
  CELL_TYPES.forEach((cell, c) => {
    const idx = r * CELL_TYPES.length + c;
    const left = PANEL_LEFT + c * PANEL_STEP;
    const top = PANEL_TOPS[r];

    grids.push({
      left: left, top: top, width: PANEL_W, height: PANEL_H,
      show: true, backgroundColor: '#ffffff', borderColor: '#1a1a1a', borderWidth: 2,
      containLabel: false, outerBoundsMode: 'none'
    });
    xAxes.push({
      gridIndex: idx, type: 'value', min: X_LIMITS[0], max: X_LIMITS[1],
      splitLine: { show: false }, axisLine: { show: false }, axisTick: { show: false },
      axisLabel: {
        show: r === CONTRASTS.length - 1, customValues: TICKS,
        fontSize: 18, color: '#222222', margin: 5, fontFamily: FONT
      }
    });
    yAxes.push({
      gridIndex: idx, type: 'value', min: Y_LIMITS[0], max: Y_LIMITS[1],
      splitLine: { show: false }, axisLine: { show: false }, axisTick: { show: false },
      axisLabel: {
        show: c === 0, customValues: TICKS,
        fontSize: 18, color: '#222222', margin: 5, fontFamily: FONT
      }
    });

    // panel grid lines at the tick positions
    series.push({
      type: 'scatter', xAxisIndex: idx, yAxisIndex: idx, data: [], z: 1, silent: true,
      markLine: {
        silent: true, symbol: ['none', 'none'], animation: false,
        label: { show: false }, emphasis: { disabled: true },
        lineStyle: { color: '#cccccc', width: 1.6, type: 'solid' },
        data: TICKS.map(v => ({ xAxis: v })).concat(TICKS.map(v => ({ yAxis: v })))
      }
    });
    // identity line
    series.push({
      type: 'line', xAxisIndex: idx, yAxisIndex: idx, z: 2, silent: true,
      data: IDENTITY.map(v => [v, v]), showSymbol: false, symbol: 'none', clip: true,
      lineStyle: { color: '#aaaaaa', width: 2, type: [8, 6] }, animation: false
    });
    // all features
    series.push({
      type: 'scatter', xAxisIndex: idx, yAxisIndex: idx, z: 3, silent: true,
      data: PANEL_POINTS[r][c], symbol: 'circle', symbolSize: 4.7,
      itemStyle: { color: '#000000', opacity: 1, borderWidth: 0 }, animation: false
    });
    // discordant features
    const sig = PANEL_SIG[r][c];
    series.push({
      type: 'scatter', xAxisIndex: idx, yAxisIndex: idx, z: 4, silent: true,
      data: sig, symbol: 'circle', symbolSize: 6.5,
      itemStyle: { color: '#ff0000', opacity: 1, borderWidth: 0 }, animation: false
    });

    if (sig.length > 0) {
      const bw = 42, bh = 49;
      elements.push({
        type: 'rect', z: 10,
        shape: { x: left + PANEL_W - bw, y: top + PANEL_H - bh, width: bw, height: bh },
        style: { fill: '#ffffff', stroke: '#1a1a1a', lineWidth: 2 }
      });
      elements.push({
        type: 'text', z: 11,
        x: left + PANEL_W - bw / 2, y: top + PANEL_H - bh / 2,
        style: {
          text: String(sig.length), fill: '#ff0000',
          font: 'bold 21px ' + FONT, align: 'center', verticalAlign: 'middle'
        }
      });
    }

    if (r === 0) {
      elements.push({
        type: 'rect', z: 10,
        shape: { x: left - 1, y: STRIP_TOP, width: PANEL_W + 2, height: STRIP_H },
        style: { fill: '#000000' }
      });
      elements.push({
        type: 'text', z: 11, x: left + PANEL_W / 2, y: STRIP_TOP + STRIP_H / 2,
        style: {
          text: cell, fill: '#ffffff', font: 'bold 20px ' + FONT,
          align: 'center', verticalAlign: 'middle'
        }
      });
    }
  });

  elements.push({
    type: 'rect', z: 10,
    shape: { x: ROW_STRIP_X, y: PANEL_TOPS[r] - 1, width: ROW_STRIP_W, height: PANEL_H + 2 },
    style: { fill: '#000000' }
  });
  elements.push({
    type: 'text', z: 11, x: ROW_STRIP_X + ROW_STRIP_W / 2, y: PANEL_TOPS[r] + PANEL_H / 2,
    rotation: -Math.PI / 2,
    style: {
      text: contrast, fill: '#ffffff', font: 'bold 20px ' + FONT,
      align: 'center', verticalAlign: 'middle'
    }
  });
});

// axis titles
elements.push({
  type: 'text', z: 11, x: 22, y: 460, rotation: Math.PI / 2,
  style: { text: 'DNAm-derived logFC', fill: '#1a1a1a', font: '26px ' + FONT, align: 'center', verticalAlign: 'middle' }
});
elements.push({
  type: 'text', z: 11, x: 762, y: 918,
  style: { text: 'Transcriptome-derived logFC', fill: '#1a1a1a', font: '26px ' + FONT, align: 'center', verticalAlign: 'middle' }
});

const chart = echarts.init(document.getElementById('chart'), null, { renderer: 'canvas' });
chart.setOption({
  backgroundColor: '#ffffff',
  animation: false,
  grid: grids,
  xAxis: xAxes,
  yAxis: yAxes,
  series: series,
  graphic: { elements: elements }
});
</script>
</body>
</html>
